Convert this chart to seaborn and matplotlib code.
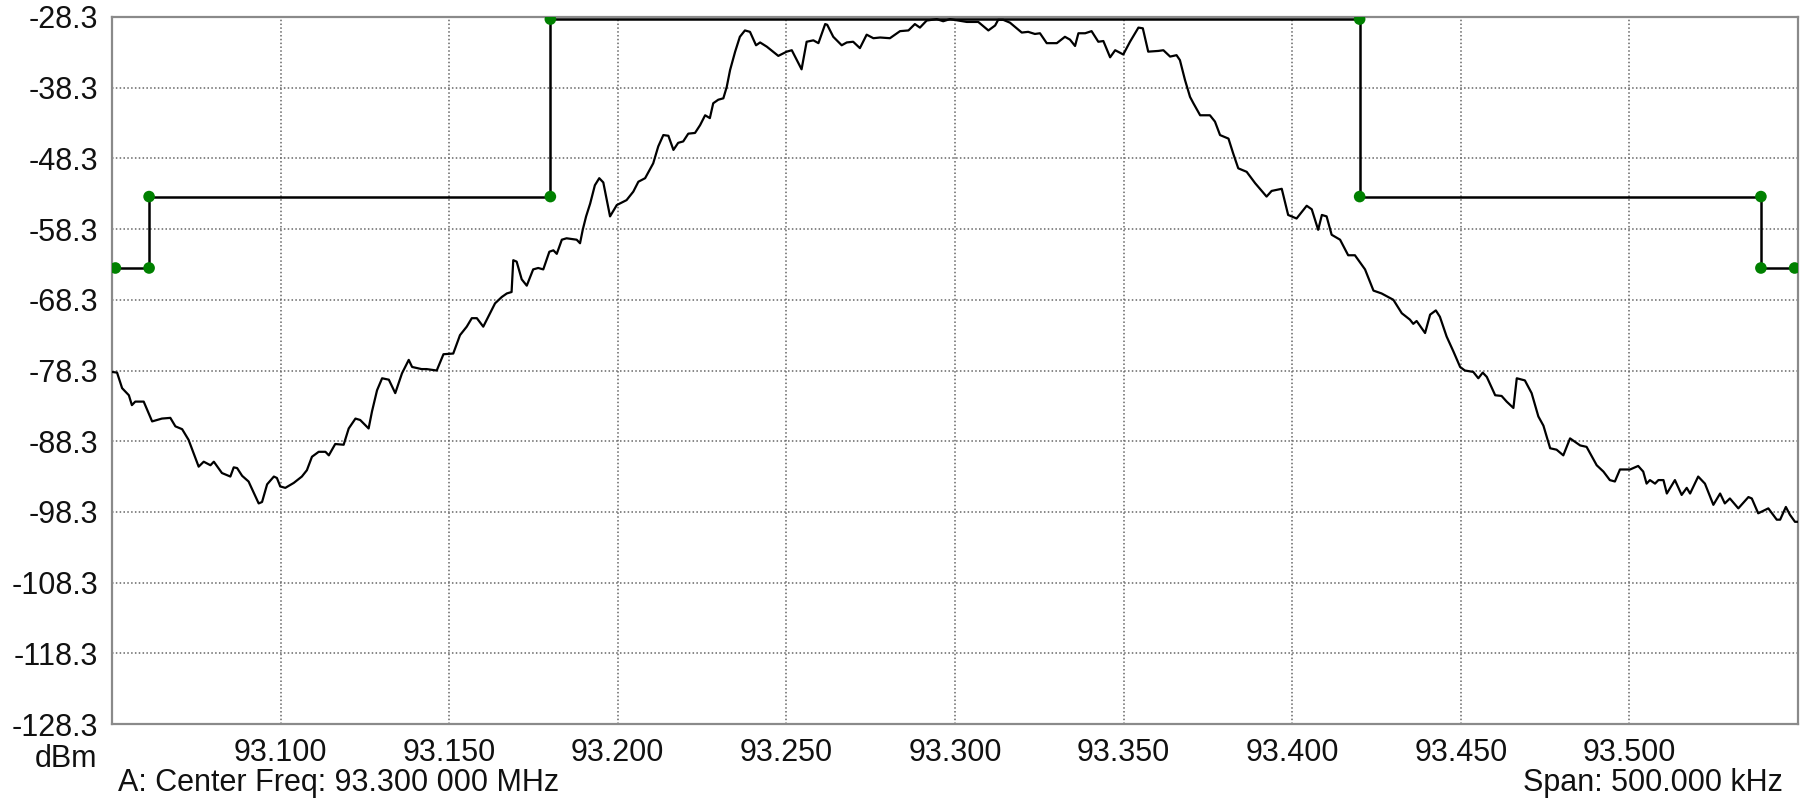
import matplotlib
matplotlib.use("Agg")
import matplotlib.pyplot as plt
import seaborn as sns
import pandas as pd

# Measured spectrum trace: frequency (MHz) and level (dBm)
freq_mhz = [
    93.0500, 93.0515, 93.0530, 93.0550, 93.0559, 93.0569, 93.0594, 93.0619, 93.0648, 93.0673,
    93.0688, 93.0708, 93.0727, 93.0757, 93.0772, 93.0792, 93.0802, 93.0826, 93.0851, 93.0861,
    93.0871, 93.0886, 93.0905, 93.0935, 93.0945, 93.0960, 93.0980, 93.0989, 93.0999, 93.1014,
    93.1039, 93.1063, 93.1078, 93.1093, 93.1113, 93.1133, 93.1143, 93.1162, 93.1187, 93.1202,
    93.1222, 93.1236, 93.1261, 93.1271, 93.1286, 93.1301, 93.1321, 93.1340, 93.1360, 93.1380,
    93.1390, 93.1418, 93.1433, 93.1463, 93.1483, 93.1512, 93.1532, 93.1552, 93.1567, 93.1582,
    93.1601, 93.1616, 93.1636, 93.1656, 93.1671, 93.1685, 93.1690, 93.1700, 93.1715, 93.1730,
    93.1749, 93.1764, 93.1779, 93.1797, 93.1809, 93.1819, 93.1834, 93.1848, 93.1878, 93.1888,
    93.1896, 93.1906, 93.1918, 93.1932, 93.1945, 93.1957, 93.1977, 93.1997, 93.2026, 93.2046,
    93.2061, 93.2081, 93.2105, 93.2120, 93.2135, 93.2150, 93.2165, 93.2179, 93.2194, 93.2209,
    93.2229, 93.2244, 93.2259, 93.2273, 93.2283, 93.2298, 93.2313, 93.2323, 93.2333, 93.2348,
    93.2362, 93.2377, 93.2392, 93.2410, 93.2422, 93.2442, 93.2476, 93.2501, 93.2516, 93.2531,
    93.2545, 93.2560, 93.2580, 93.2595, 93.2615, 93.2621, 93.2639, 93.2664, 93.2679, 93.2698,
    93.2718, 93.2738, 93.2758, 93.2778, 93.2807, 93.2837, 93.2862, 93.2881, 93.2896, 93.2916,
    93.2946, 93.2965, 93.2985, 93.3035, 93.3069, 93.3099, 93.3119, 93.3128, 93.3143, 93.3163,
    93.3178, 93.3198, 93.3217, 93.3237, 93.3252, 93.3272, 93.3302, 93.3326, 93.3341, 93.3356,
    93.3366, 93.3386, 93.3405, 93.3425, 93.3440, 93.3460, 93.3475, 93.3499, 93.3519, 93.3544,
    93.3557, 93.3573, 93.3603, 93.3618, 93.3638, 93.3657, 93.3667, 93.3682, 93.3697, 93.3707,
    93.3727, 93.3756, 93.3771, 93.3786, 93.3811, 93.3825, 93.3840, 93.3865, 93.3890, 93.3924,
    93.3939, 93.3969, 93.3988, 93.4013, 93.4043, 93.4058, 93.4077, 93.4088, 93.4102, 93.4117,
    93.4142, 93.4166, 93.4186, 93.4216, 93.4241, 93.4265, 93.4300, 93.4325, 93.4349, 93.4359,
    93.4369, 93.4394, 93.4409, 93.4426, 93.4438, 93.4458, 93.4478, 93.4498, 93.4512, 93.4537,
    93.4552, 93.4565, 93.4577, 93.4602, 93.4621, 93.4636, 93.4656, 93.4666, 93.4690, 93.4710,
    93.4730, 93.4745, 93.4765, 93.4784, 93.4804, 93.4824, 93.4854, 93.4873, 93.4903, 93.4923,
    93.4942, 93.4957, 93.4972, 93.5002, 93.5026, 93.5041, 93.5051, 93.5061, 93.5076, 93.5086,
    93.5101, 93.5111, 93.5135, 93.5155, 93.5170, 93.5180, 93.5204, 93.5224, 93.5249, 93.5269,
    93.5283, 93.5298, 93.5323, 93.5353, 93.5363, 93.5382, 93.5412, 93.5437, 93.5447, 93.5464,
    93.5476, 93.5491, 93.5500,
]
level_dbm = [
    -78.5, -78.6, -80.8, -81.8, -83.2, -82.7, -82.7, -85.5, -85.1, -85.0,
    -86.2, -86.6, -88.1, -91.9, -91.2, -91.7, -91.2, -92.8, -93.3, -92.0,
    -92.1, -93.2, -94.0, -97.1, -96.9, -94.4, -93.3, -93.5, -94.7, -94.9,
    -94.2, -93.3, -92.4, -90.5, -89.8, -89.8, -90.3, -88.7, -88.8, -86.5,
    -85.1, -85.3, -86.5, -84.1, -81.1, -79.4, -79.6, -81.5, -78.7, -76.8,
    -77.8, -78.1, -78.1, -78.3, -76.0, -75.9, -73.3, -72.1, -70.9, -70.9,
    -72.1, -70.7, -68.8, -67.9, -67.4, -67.2, -62.7, -62.9, -65.4, -66.3,
    -64.0, -63.8, -64.0, -61.5, -61.3, -61.8, -59.8, -59.6, -59.8, -60.3,
    -58.4, -56.5, -54.7, -52.1, -51.1, -51.7, -56.5, -54.9, -54.2, -53.0,
    -51.6, -51.1, -49.0, -46.6, -45.0, -45.1, -47.1, -46.1, -45.9, -44.8,
    -44.7, -43.6, -42.2, -42.6, -40.5, -40.0, -39.8, -38.2, -35.8, -33.2,
    -31.1, -30.2, -30.4, -32.3, -31.9, -32.5, -33.8, -33.2, -33.0, -34.4,
    -35.7, -31.8, -31.6, -32.0, -29.3, -29.4, -31.1, -32.3, -31.9, -31.8,
    -32.7, -30.8, -31.3, -31.2, -31.3, -30.3, -30.2, -29.3, -29.8, -28.8,
    -28.6, -28.9, -28.6, -29.0, -29.0, -30.2, -29.5, -28.7, -28.7, -29.1,
    -29.7, -30.5, -30.4, -30.7, -30.6, -32.0, -32.0, -31.1, -31.5, -32.4,
    -30.6, -30.6, -30.3, -31.8, -31.7, -34.0, -33.0, -33.6, -31.8, -29.8,
    -29.9, -33.2, -33.1, -33.0, -33.9, -33.7, -34.4, -37.2, -39.6, -40.5,
    -42.2, -42.2, -43.1, -45.0, -45.5, -47.6, -49.7, -50.2, -51.8, -53.7,
    -52.9, -52.6, -56.3, -56.8, -55.0, -55.5, -58.4, -56.3, -56.5, -59.1,
    -59.8, -62.0, -62.0, -64.0, -67.0, -67.4, -68.3, -70.2, -71.1, -71.7,
    -71.3, -73.0, -70.4, -69.8, -70.7, -73.5, -75.6, -77.8, -78.3, -78.5,
    -79.4, -78.6, -79.2, -81.8, -81.9, -82.7, -83.6, -79.4, -79.7, -81.5,
    -84.8, -86.1, -89.3, -89.5, -90.3, -87.9, -88.9, -89.1, -91.7, -92.6,
    -93.8, -94.0, -92.3, -92.3, -91.8, -92.6, -94.3, -93.8, -94.3, -93.8,
    -93.8, -95.7, -93.8, -95.9, -94.9, -95.7, -93.3, -94.3, -97.3, -95.7,
    -97.1, -96.4, -97.8, -96.2, -96.4, -98.5, -97.8, -99.4, -99.4, -97.6,
    -98.7, -99.7, -99.7,
]

# Spectrum emission mask corner points
mask_freq = [93.051, 93.061, 93.061, 93.180, 93.180, 93.420, 93.420, 93.539, 93.539, 93.549]
mask_level = [-63.8, -63.8, -53.7, -53.7, -28.6, -28.6, -53.7, -53.7, -63.8, -63.8]

# Axis scales and labels
x_ticks = [93.100, 93.150, 93.200, 93.250, 93.300, 93.350, 93.400, 93.450, 93.500]
y_ticks = [-128.3, -118.3, -108.3, -98.3, -88.3, -78.3, -68.3, -58.3, -48.3, -38.3, -28.3]
x_range = (93.05, 93.55)
y_range = (-128.3, -28.3)
unit_label = "dBm"
center_label = "A: Center Freq: 93.300 000 MHz"
span_label = "Span: 500.000 kHz"

sns.set_style("white")
plt.rcParams["font.family"] = ["Liberation Sans", "DejaVu Sans"]

FS = 22
TXT = "#111111"

fig = plt.figure(figsize=(18.03, 8.02), dpi=100)
ax = fig.add_axes([112 / 1803, 1 - 724 / 802, (1798 - 112) / 1803, (724 - 17) / 802])

trace = pd.DataFrame({"freq": freq_mhz, "level": level_dbm})
mask = pd.DataFrame({"freq": mask_freq, "level": mask_level})

sns.lineplot(data=trace, x="freq", y="level", sort=False, estimator=None,
             color="black", linewidth=1.6, ax=ax, zorder=3)
sns.lineplot(data=mask, x="freq", y="level", sort=False, estimator=None,
             color="black", linewidth=1.8, ax=ax, zorder=4)
sns.scatterplot(data=mask, x="freq", y="level", color="#008000", s=70,
                edgecolor="none", ax=ax, zorder=5)

ax.set_xlim(*x_range)
ax.set_ylim(*y_range)
ax.set_xticks(x_ticks)
ax.set_yticks(y_ticks)
ax.set_xticklabels([f"{v:.3f}" for v in x_ticks])
ax.set_yticklabels([f"{v:.1f}" for v in y_ticks])
ax.tick_params(axis="both", length=0, labelsize=FS, labelcolor=TXT)
ax.tick_params(axis="x", pad=10)
ax.tick_params(axis="y", pad=10)
ax.set_xlabel("")
ax.set_ylabel("")

ax.grid(True, color="#666666", linewidth=1.1, linestyle=(0, (1, 1.5)))
ax.set_axisbelow(True)
for sp in ax.spines.values():
    sp.set_visible(True)
    sp.set_color("#8a8a8a")
    sp.set_linewidth(1.6)

fig.text(97 / 1803, 1 - 744 / 802, unit_label, ha="right", va="top",
         fontsize=FS, color=TXT)
fig.text(118 / 1803, 1 - 783 / 802, center_label, ha="left", va="center",
         fontsize=FS, color=TXT)
fig.text(1783 / 1803, 1 - 783 / 802, span_label, ha="right", va="center",
         fontsize=FS, color=TXT)

fig.savefig("out.png", dpi=100, facecolor="white")
